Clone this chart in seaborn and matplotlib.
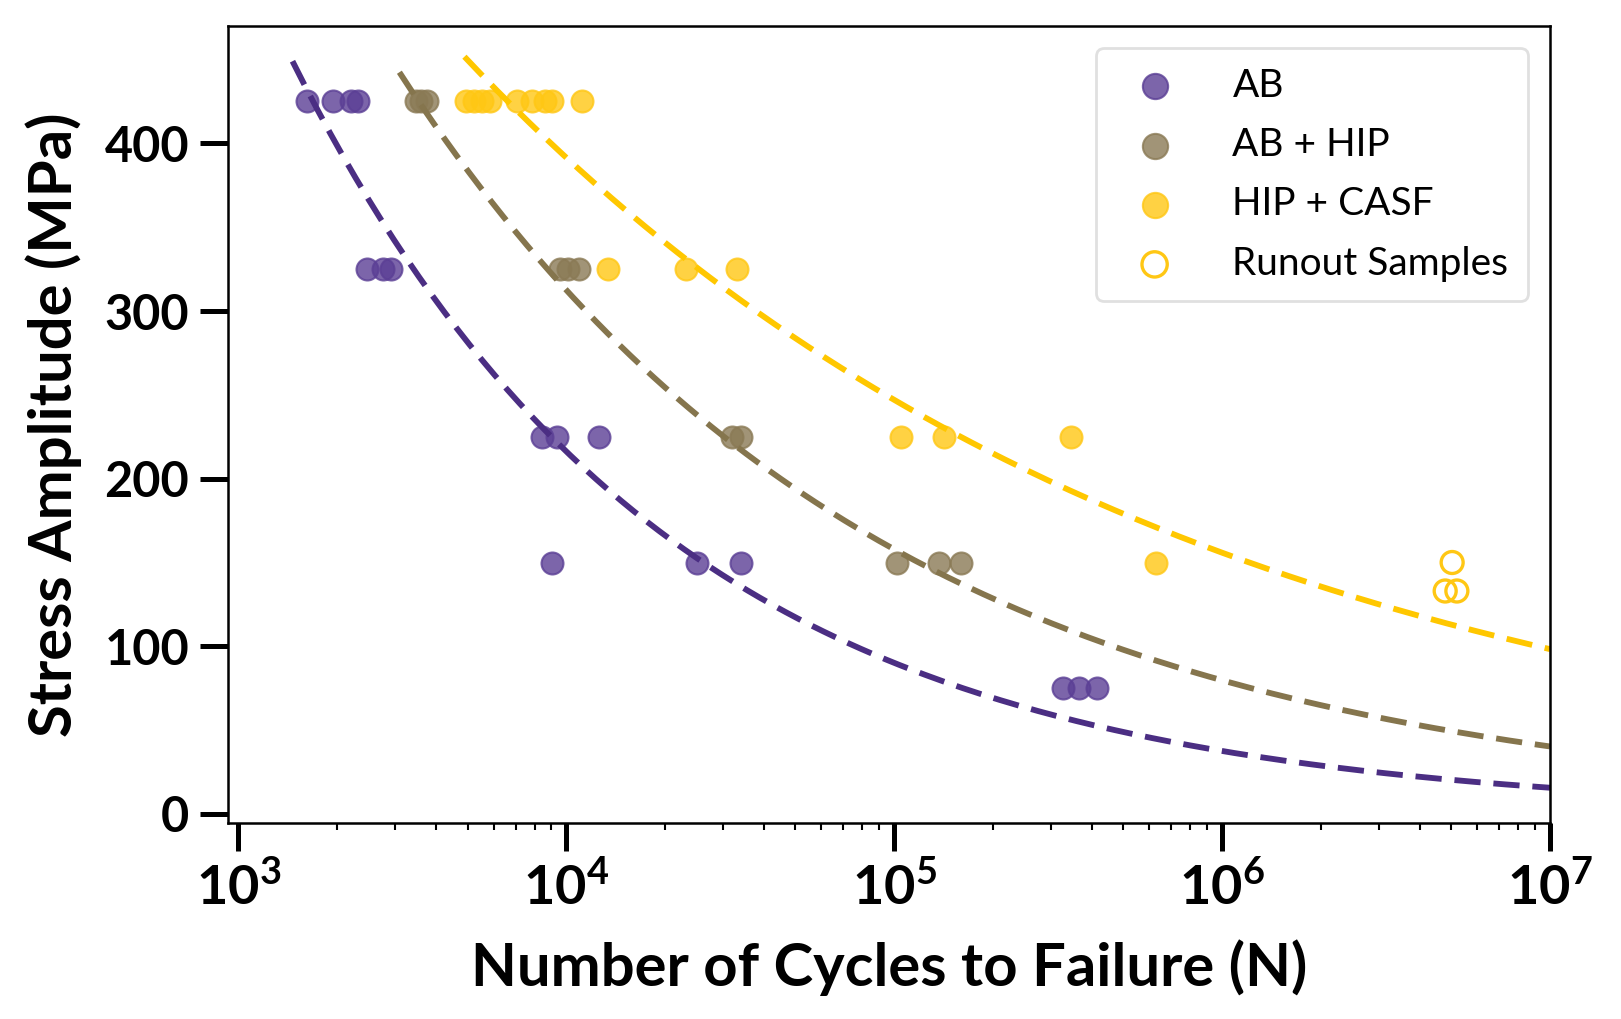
import numpy as np
import pandas as pd
import matplotlib
matplotlib.use("Agg")
import matplotlib.pyplot as plt
import seaborn as sns

# cycles to failure / stress amplitude
ab_cycles = [1620, 1940, 2210, 2320, 2470, 2770, 2930,
             8450, 9390, 12600, 9060, 25100, 34200, 327000, 366000, 416000]
ab_stress = [425, 425, 425, 425, 325, 325, 325,
             225, 225, 225, 150, 150, 150, 75, 75, 75]

hip_cycles = [3470, 3610, 3770, 9590, 10100, 10900, 32000, 34000,
              102000, 137000, 160000]
hip_stress = [425, 425, 425, 325, 325, 325, 225, 225, 150, 150, 150]

casf_cycles = [4950, 5240, 5550, 5870, 7090, 7870, 8630, 9060, 11200,
               13400, 23100, 33200, 105000, 142000, 346000, 629000]
casf_stress = [425, 425, 425, 425, 425, 425, 425, 425, 425,
               325, 325, 325, 225, 225, 225, 150]

runout_cycles = [5030000, 4790000, 5200000]
runout_stress = [150, 133, 133]

# Basquin fit S = A * N^b, drawn from N_start to 1e7
groups = ["AB", "AB + HIP", "HIP + CASF"]
fit_A = [7160, 4800, 2470]
fit_b = [-0.38, -0.2966, -0.20]
fit_start = [1462, 3097, 4890]

line_colors = ["#4B2E83", "#85754D", "#FFC700"]
point_colors = ["#5B3F95", "#8A7A55", "#FFC714"]

sns.set_theme(style="ticks")
plt.rcParams['font.family'] = ['Lato', 'DejaVu Sans']
plt.rcParams['mathtext.fontset'] = 'custom'
plt.rcParams['mathtext.rm'] = 'Lato:bold'
plt.rcParams['mathtext.bf'] = 'Lato:bold'
for key in ['text.color', 'axes.labelcolor', 'xtick.color', 'ytick.color', 'axes.edgecolor']:
    plt.rcParams[key] = 'black'

fig, ax = plt.subplots(figsize=(16.21, 10.19), dpi=100)
fig.subplots_adjust(left=0.1407, right=0.9562, top=0.9745, bottom=0.1923)

# fit curves
for name, A, b, n0, col in zip(groups, fit_A, fit_b, fit_start, line_colors):
    n = np.logspace(np.log10(n0), 7, 200)
    fit = pd.DataFrame({"N": n, "S": A * n ** b})
    sns.lineplot(data=fit, x="N", y="S", ax=ax, color=col, lw=4.2,
                 linestyle=(0, (4.5, 2.2)), legend=False)

# data points
series = [(ab_cycles, ab_stress), (hip_cycles, hip_stress), (casf_cycles, casf_stress)]
for name, (xs, ys), col in zip(groups, series, point_colors):
    df = pd.DataFrame({"N": xs, "S": ys})
    sns.scatterplot(data=df, x="N", y="S", ax=ax, color=col, s=250, alpha=0.8,
                    edgecolor=col, linewidth=1.5, label=name)

ax.scatter(runout_cycles, runout_stress, s=250, facecolors="none",
           edgecolors="#FFC714", linewidths=2.4, label="Runout Samples")

ax.set_xscale("log")
ax.set_xlim(930, 1e7)
ax.set_ylim(-5.4, 470)
ax.set_yticks([0, 100, 200, 300, 400])
ax.set_xticks([1e3, 1e4, 1e5, 1e6, 1e7])
ax.set_xticklabels([r"$\mathbf{10^{%d}}$" % k for k in range(3, 8)])

ax.set_xlabel("Number of Cycles to Failure (N)", fontsize=43, fontweight="bold", labelpad=18)
ax.set_ylabel("Stress Amplitude (MPa)", fontsize=43, fontweight="bold", labelpad=16)

for sp in ax.spines.values():
    sp.set_linewidth(1.8)
    sp.set_color("black")

ax.tick_params(axis="both", which="major", length=20, width=3.6, color="black")
ax.tick_params(axis="both", which="minor", length=5, width=1.5, color="black")
ax.tick_params(axis="x", which="major", labelsize=39, pad=8)
ax.tick_params(axis="y", which="major", labelsize=35, pad=8)
for lab in ax.get_yticklabels() + ax.get_xticklabels():
    lab.set_fontweight("bold")

leg = ax.legend(loc="upper right", fontsize=28, frameon=True, fancybox=True,
                borderpad=0.5, handlelength=2.0, handletextpad=1.0,
                labelspacing=0.6, borderaxespad=0.57, markerscale=1.15)
leg.get_frame().set_edgecolor("#D9D9D9")
leg.get_frame().set_linewidth(2)

fig.savefig("out.png", dpi=100)
